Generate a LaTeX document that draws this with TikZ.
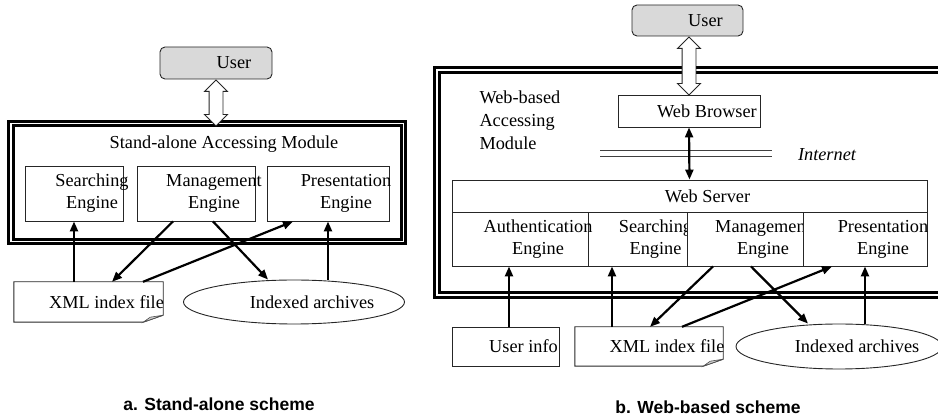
\documentclass[tikz,border=0pt]{standalone}
\usepackage{fontspec}
\setmainfont{Liberation Serif}
\newfontfamily\captionfont{Liberation Sans}
\usepackage{tikz}
\usetikzlibrary{shapes,arrows.meta}

% outline of a page with a turned corner, drawn round a named node
\newcommand{\drawpaper}[1]{%
  \draw[black!85,line width=0.9pt] (#1.north west) -- (#1.north east) -- ([yshift=7pt]#1.south east)
    -- ([xshift=-20pt]#1.south east) -- (#1.south west) -- cycle;
  \draw[black!70,line width=0.6pt,fill=black!20] ([xshift=-20pt]#1.south east)
    -- ([xshift=-13pt,yshift=5pt]#1.south east) -- ([yshift=7pt]#1.south east) -- cycle;}

\begin{document}
\begin{tikzpicture}[x=1pt,y=-1pt,>={Triangle[length=10pt,width=8pt]},
    font=\fontsize{18.3}{22}\selectfont,
    box/.style={draw=black!85,line width=0.9pt,inner sep=0pt,rectangle},
    userbox/.style={box,rounded corners=5pt,fill=black!15,minimum width=112pt,minimum height=32pt},
    module/.style={draw,line width=3pt,double,double distance=1.8pt,inner sep=0pt},
    wide/.style={double arrow,draw=black!85,line width=0.9pt,fill=white,inner sep=6.5pt,
                 double arrow head extend=4.5pt,rotate=90},
    cell/.style={box,fill=white,minimum height=54pt},
    flow/.style={->,line width=2.2pt},
    txt/.style={label={[xshift=18pt,align=center,inner sep=0pt]center:#1}}]
  \useasboundingbox (0,0) rectangle (938,419);

  % a. stand-alone
  \node[module,minimum width=392.8pt,minimum height=118pt] (moduleA) at (207.1,182.5) {};
  \node[userbox,txt=User] (userA) at (216,63) {};
  \node[wide,minimum height=46pt] (linkA) at (216,103) {};
  \node (titleA) at (224,144) {Stand-alone Accessing Module};
  \node[box,minimum width=98pt,minimum height=55pt,txt={Searching\\Engine}] (searchA) at (74,193.5) {};
  \node[box,minimum width=118pt,minimum height=55pt,txt={Management\\Engine}] (manageA) at (196,193.5) {};
  \node[box,minimum width=122pt,minimum height=55pt,txt={Presentation\\Engine}] (presentA) at (328,193.5) {};
  \node[inner sep=0pt,minimum width=149pt,minimum height=40pt,txt={XML index file}] (xmlA) at (88.5,302) {};
  \drawpaper{xmlA}
  \node[ellipse,draw=black!85,line width=0.9pt,inner sep=0pt,minimum width=221pt,minimum height=44pt,
        txt={Indexed archives}] (archA) at (294,302) {};
  \path
    (xmlA.north -| searchA.south) edge[flow] (searchA.south)
    ([xshift=-23pt]manageA.south) edge[flow] ([xshift=23.5pt]xmlA.north)
    ([xshift=54.5pt]xmlA.north) edge[flow] ([xshift=-35pt]presentA.south)
    ([xshift=17pt]manageA.south) edge[flow] ([xshift=-26pt]archA.north)
    (presentA.south |- archA.north) edge[flow] (presentA.south);
  \node[font=\captionfont\bfseries\fontsize{17.5}{20}\selectfont] (capA) at (219,404) {a. Stand-alone scheme};

  % b. web-based
  \node[module,minimum width=508pt,minimum height=225pt] (moduleB) at (691,182.5) {};
  \node[userbox,minimum width=111pt,minimum height=31pt,txt=User] (userB) at (687.5,20.5) {};
  \node[wide,minimum height=58pt] (linkB) at (689,66) {};
  \node[align=left,anchor=west,font=\fontsize{18.3}{23}\selectfont] (titleB) at (476,120) {Web-based\\Accessing\\Module};
  \node[box,minimum width=142pt,minimum height=32pt,txt=Web Browser] (browser) at (689,111) {};
  \draw[black!75,line width=0.9pt] (600,150) -- (772,150) (600,156) -- (772,156);
  \node (internet) at (827,155) {\itshape Internet};
  \node[box,minimum width=475pt,minimum height=32pt,txt=Web Server] (server) at (689.5,196) {};
  \node[cell,minimum width=99pt,txt={Searching\\Engine}] (searchB) at (637.5,239) {};
  \node[cell,minimum width=116pt,txt={Management\\Engine}] (manageB) at (745,239) {};
  \node[cell,minimum width=124pt,txt={Presentation\\Engine}] (presentB) at (865,239) {};
  \node[cell,minimum width=136pt,txt={Authentication\\Engine}] (authB) at (520,239) {};
  \node[box,minimum width=107pt,minimum height=39pt,txt={User info}] (infoB) at (505.5,346.5) {};
  \node[inner sep=0pt,minimum width=148pt,minimum height=39pt,txt={XML index file}] (xmlB) at (649,346.5) {};
  \drawpaper{xmlB}
  \node[ellipse,draw=black!85,line width=0.9pt,inner sep=0pt,minimum width=206pt,minimum height=45pt,
        txt={Indexed archives}] (archB) at (839,346.5) {};
  \path
    (browser.south) edge[flow,<->] (server.north)
    ([xshift=3.5pt]infoB.north) edge[flow] ([xshift=-11pt]authB.south)
    ([xshift=-37pt]xmlB.north) edge[flow] ([xshift=-25.5pt]searchB.south)
    ([xshift=-32pt]manageB.south) edge[flow] ([xshift=1pt]xmlB.north)
    ([xshift=33pt]xmlB.north) edge[flow] ([xshift=-33pt]presentB.south)
    ([xshift=6pt]manageB.south) edge[flow] ([xshift=-31pt]archB.north)
    (presentB.south |- archB.north) edge[flow] (presentB.south);
  \node[font=\captionfont\bfseries\fontsize{17.5}{20}\selectfont] (capB) at (708,407) {b. Web-based scheme};
\end{tikzpicture}
\end{document}
